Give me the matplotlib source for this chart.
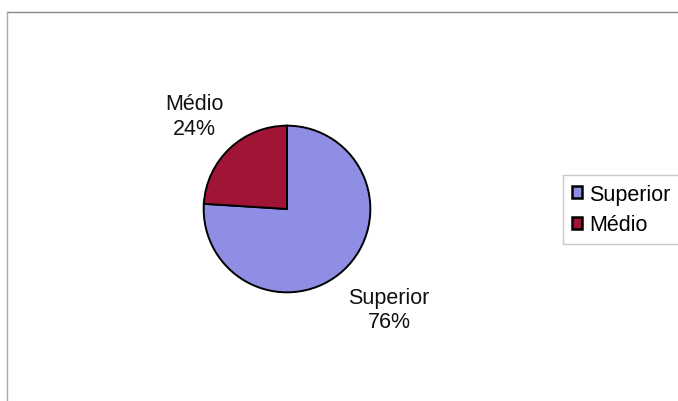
import matplotlib
matplotlib.use("Agg")
import matplotlib.pyplot as plt
from matplotlib.lines import Line2D

categories = ["Superior", "Médio"]
values = [76, 24]
colors = ["#8E8EE4", "#A01535"]

W, H = 678, 402
plt.rcParams["font.family"] = ["Liberation Sans", "DejaVu Sans"]

fig = plt.figure(figsize=(W / 100, H / 100), dpi=100)

# pie centre ~ (287, 210) px, radius ~85 px
cx, cy, r = 287, 210, 85
ax = fig.add_axes([(cx - r) / W, (H - cy - r) / H, 2 * r / W, 2 * r / H])
labels = [f"{c}\n{v}%" for c, v in zip(categories, values)]
wedges, texts = ax.pie(
    values,
    labels=labels,
    colors=colors,
    startangle=90,
    counterclock=False,
    radius=1,
    labeldistance=1.6,
    wedgeprops=dict(edgecolor="black", linewidth=1.4),
    textprops=dict(fontsize=15.5, color="#111111"),
)
for t in texts:
    t.set_ha("center")
    t.set_va("center")
    t.set_linespacing(1.2)
# nudge labels a little (Superior sits further right in the original)
x, y = texts[0].get_position()
texts[0].set_position((x + 0.13, y - 0.04))
x, y = texts[1].get_position()
texts[1].set_position((x - 0.02, y - 0.05))
ax.set_xlim(-1.02, 1.02)
ax.set_ylim(-1.02, 1.02)
ax.set_aspect("equal")

leg = fig.legend(
    wedges,
    categories,
    loc="upper left",
    bbox_to_anchor=(563 / W, 1 - 176 / H),
    fontsize=15.5,
    frameon=True,
    fancybox=False,
    edgecolor="#bbbbbb",
    handlelength=0.5,
    handleheight=0.5,
    handletextpad=0.3,
    borderpad=0.4,
    labelspacing=0.45,
    borderaxespad=0,
)
leg.get_frame().set_linewidth(1.0)
for h in leg.legend_handles:
    h.set_edgecolor("black")
    h.set_linewidth(1.8)

# chart area border (top and left visible)
fig.add_artist(Line2D([7 / W, 1], [1 - 13 / H, 1 - 13 / H], color="#888888", lw=1))
fig.add_artist(Line2D([7 / W, 7 / W], [0, 1 - 13 / H], color="#aaaaaa", lw=1))

fig.savefig("out.png", dpi=100)
